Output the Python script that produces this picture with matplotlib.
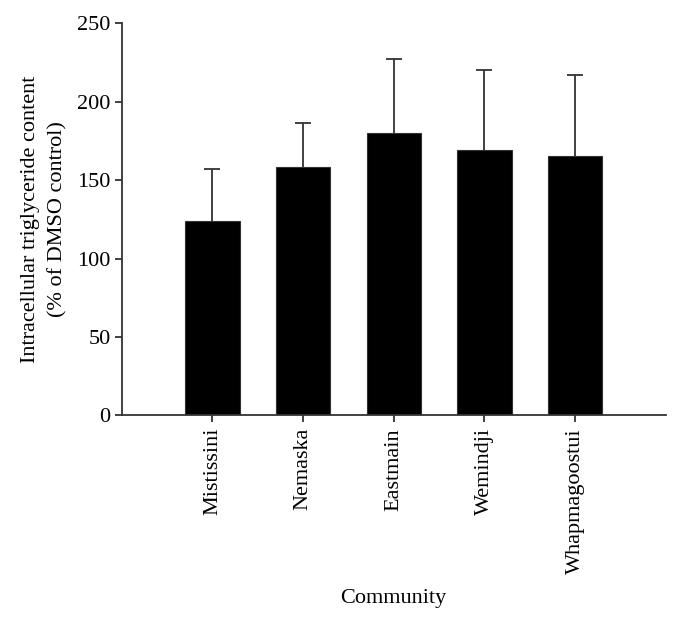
import matplotlib.pyplot as plt
import numpy as np

# Data
communities = ["Mistissini", "Nemaska", "Eastmain", "Wemindji", "Whapmagoostui"]
means = [124, 158, 180, 169, 165]
errors = [33, 28, 47, 51, 52]

plt.rcParams['font.family'] = ['Liberation Serif', 'DejaVu Serif']

fig = plt.figure(figsize=(6.8, 6.22), dpi=100)
ax = fig.add_axes([0.179, 0.332, 0.800, 0.631])

x = np.arange(len(communities))
tops = np.array(means) + np.array(errors)
ax.vlines(x, means, tops, color="#333333", linewidth=1.3, zorder=1)
ax.plot(x, tops, ls="none", marker="_", ms=11, mew=1.3, color="#333333", zorder=1)
ax.bar(x, means, width=0.6, color="black", edgecolor="#333333", linewidth=0.8, zorder=2)

ax.set_xlim(-1, 5)
ax.set_ylim(0, 250)
ax.set_yticks([0, 50, 100, 150, 200, 250])
ax.set_xticks(x)
ax.set_xticklabels(communities, rotation=90, fontsize=16)
ax.tick_params(axis="y", labelsize=16, length=5, width=1.3, color="#333333", pad=3)
ax.tick_params(axis="x", length=5, width=1.3, color="#333333", pad=4)

for side in ["top", "right"]:
    ax.spines[side].set_visible(False)
for side in ["left", "bottom"]:
    ax.spines[side].set_linewidth(1.3)
    ax.spines[side].set_color("#333333")

ax.set_ylabel("Intracellular triglyceride content\n(% of DMSO control)", fontsize=16,
              linespacing=1.55, labelpad=7)
ax.set_xlabel("Community", fontsize=16, labelpad=11)

fig.savefig("out.png", dpi=100)
